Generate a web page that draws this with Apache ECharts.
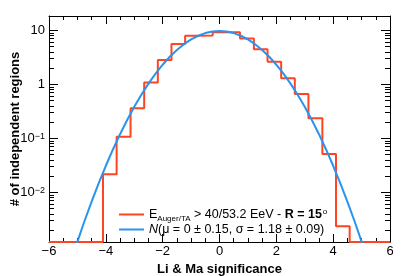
<!DOCTYPE html>
<html><head><meta charset="utf-8">
<script src="https://cdn.jsdelivr.net/npm/echarts@6/dist/echarts.min.js"></script>
<style>html,body{margin:0;padding:0;background:#fff}#c{width:407px;height:276px}</style>
</head><body><div id="c"></div>
<script>
// ---- data ----
const xMin = -6, xMax = 6;
const yMin = 0.00119, yMax = 18.2;
const xTickValues = [-6, -4, -2, 0, 2, 4, 6];
const xTickLabels = ['\u22126', '\u22124', '\u22122', '0', '2', '4', '6'];
const yTickValues = [0.01, 0.1, 1, 10];
const yTickBase = ['10', '10', '1', '10'];
const yTickSup = ['\u22122', '\u22121', '', ''];
const yMinorMantissas = [2, 3, 4, 5, 6, 7, 8, 9];
const yMinorDecades = [0.001, 0.01, 0.1, 1, 10];
const binEdges = [-4.10, -3.62, -3.13, -2.65, -2.17, -1.69, -1.21, -0.72, -0.24, 0.24, 0.72, 1.21, 1.69, 2.17, 2.65, 3.13, 3.62, 4.10, 4.58];
const binCounts = [0.0213, 0.106, 0.355, 1.07, 2.78, 5.5, 7.85, 7.95, 9.06, 9.06, 7.01, 4.4, 2.59, 1.28, 0.653, 0.232, 0.0506, 0.00234];
const fitX = [-5.25, -5, -4.75, -4.5, -4.25, -4, -3.75, -3.5, -3.25, -3, -2.75, -2.5, -2.25, -2, -1.75, -1.5, -1.25, -1, -0.75, -0.5, -0.25, 0,
              0.25, 0.5, 0.75, 1, 1.25, 1.5, 1.75, 2, 2.25, 2.5, 2.75, 3, 3.25, 3.5, 3.75, 4, 4.25, 4.5, 4.75, 5, 5.25];
const fitY = [0.00048, 0.00121, 0.00291, 0.00666, 0.0146, 0.0307, 0.0615, 0.118, 0.216, 0.379, 0.635, 1.02, 1.56, 2.28, 3.20, 4.28, 5.48, 6.70, 7.84, 8.78, 9.39, 9.6,
              9.39, 8.78, 7.84, 6.70, 5.48, 4.28, 3.20, 2.28, 1.56, 1.02, 0.635, 0.379, 0.216, 0.118, 0.0615, 0.0307, 0.0146, 0.00666, 0.00291, 0.00121, 0.00048];
const histName = 'hist';
const fitName = 'fit';
const xTitle = 'Li & Ma significance';
const yTitle = '# of independent regions';

// ---- build ----
const FONT = '"Liberation Sans", Arial, Helvetica, sans-serif';
const RED = '#ff4422';
const BLUE = '#2a93ee';

const histPts = [[xMin, yMin], [binEdges[0], yMin]];
for (let i = 0; i < binCounts.length; i++) {
  histPts.push([binEdges[i], binCounts[i]]);
  histPts.push([binEdges[i + 1], binCounts[i]]);
}
histPts.push([binEdges[binEdges.length - 1], yMin]);
histPts.push([xMax, yMin]);
const fitPts = fitX.map((x, i) => [x, fitY[i]]);

const yMinorPts = [];
yMinorDecades.forEach(d => yMinorMantissas.forEach(m => {
  const v = m * d;
  if (v > yMin && v < yMax) yMinorPts.push([xMin, v]);
}));

function xFmt(v) {
  const i = xTickValues.findIndex(t => Math.abs(t - v) < 1e-9);
  return i < 0 ? '' : xTickLabels[i];
}
function yFmt(v) {
  const i = yTickValues.findIndex(t => Math.abs(Math.log10(t) - Math.log10(v)) < 1e-6);
  if (i < 0) return '';
  return yTickSup[i] ? '{n|' + yTickBase[i] + '}{s|' + yTickSup[i] + '}' : '{n|' + yTickBase[i] + '}';
}

const axisLineStyle = { show: true, onZero: false, lineStyle: { color: '#000', width: 1 } };
const xAxisCommon = {
  type: 'value', min: xMin, max: xMax, interval: 2,
  axisLine: axisLineStyle,
  axisTick: { show: true, inside: true, length: 8, lineStyle: { color: '#000' } },
  minorTick: { show: true, splitNumber: 4, length: 4, lineStyle: { color: '#000' } },
  splitLine: { show: false }, minorSplitLine: { show: false }
};
const yAxisCommon = {
  type: 'log', logBase: 10, min: yMin, max: yMax,
  axisLine: axisLineStyle,
  axisTick: { show: true, inside: true, length: 9, lineStyle: { color: '#000' } },
  minorTick: { show: false },
  splitLine: { show: false }, minorSplitLine: { show: false }
};

const chart = echarts.init(document.getElementById('c'), null, { renderer: 'canvas' });
chart.setOption({
  animation: false,
  backgroundColor: '#fff',
  textStyle: { fontFamily: FONT },
  grid: { left: 49, right: 17, top: 16, bottom: 34, containLabel: false, outerBoundsMode: 'none' },
  xAxis: [
    Object.assign({}, xAxisCommon, {
      position: 'bottom',
      name: xTitle, nameLocation: 'middle', nameGap: 18,
      nameTextStyle: { fontFamily: FONT, fontSize: 13, fontWeight: 'bold', color: '#000' },
      axisLabel: { show: true, margin: 3, fontFamily: FONT, fontSize: 13, color: '#000', formatter: xFmt,
                   showMinLabel: true, showMaxLabel: true }
    }),
    Object.assign({}, xAxisCommon, { position: 'top', axisLabel: { show: false } })
  ],
  yAxis: [
    Object.assign({}, yAxisCommon, {
      position: 'left',
      name: yTitle, nameLocation: 'middle', nameGap: 27, nameRotate: 90, nameMoveOverlap: false,
      nameTextStyle: { fontFamily: FONT, fontSize: 13, fontWeight: 'bold', color: '#000' },
      axisLabel: { show: true, margin: 4, formatter: yFmt, showMinLabel: false, showMaxLabel: false,
        rich: {
          n: { fontFamily: FONT, fontSize: 13, color: '#000', lineHeight: 13 },
          s: { fontFamily: FONT, fontSize: 9, color: '#000', lineHeight: 13, verticalAlign: 'top', padding: [0, 0, 0, 0] }
        } }
    }),
    Object.assign({}, yAxisCommon, { position: 'right', axisLabel: { show: false } })
  ],
  legend: {
    show: true, orient: 'vertical', left: 114, top: 203,
    itemWidth: 25, itemHeight: 2, itemGap: 0,
    data: [{ name: histName, icon: 'rect' }, { name: fitName, icon: 'rect' }],
    formatter: function (name) {
      if (name === histName) return '{n|E}{sub|Auger/TA}{n| > 40/53.2 EeV - }{b|R = 15}{sup|o}';
      return '{i|N}{n|(\u03bc = 0 \u00b1 0.15, \u03c3 = 1.18 \u00b1 0.09)}';
    },
    textStyle: {
      fontFamily: FONT, fontSize: 12.5, color: '#000',
      rich: {
        n: { fontFamily: FONT, fontSize: 12.5, color: '#000', lineHeight: 13 },
        i: { fontFamily: FONT, fontSize: 12.5, color: '#000', lineHeight: 13, fontStyle: 'italic' },
        b: { fontFamily: FONT, fontSize: 12.5, color: '#000', lineHeight: 13, fontWeight: 'bold' },
        sub: { fontFamily: FONT, fontSize: 8, color: '#000', lineHeight: 13, verticalAlign: 'top', padding: [7, 0, 0, 0] },
        sup: { fontFamily: FONT, fontSize: 8, color: '#000', lineHeight: 13, verticalAlign: 'top', padding: [0, 0, 0, 1] }
      }
    }
  },
  series: [
    {
      name: histName, type: 'line', xAxisIndex: 0, yAxisIndex: 0,
      data: histPts, symbol: 'none', showSymbol: false, clip: true,
      color: RED, lineStyle: { color: RED, width: 2 }, z: 3
    },
    {
      name: fitName, type: 'line', xAxisIndex: 0, yAxisIndex: 0,
      data: fitPts, symbol: 'none', showSymbol: false, clip: true, smooth: false,
      color: BLUE, lineStyle: { color: BLUE, width: 2 }, z: 4
    },
    {
      name: 'yminor', type: 'custom', xAxisIndex: 0, yAxisIndex: 0,
      data: yMinorPts, encode: { x: 0, y: 1 }, silent: true, clip: false, z: 5,
      renderItem: function (params, api) {
        const v = api.value(1);
        const pl = api.coord([xMin, v]);
        const pr = api.coord([xMax, v]);
        const y = Math.round(pl[1]) + 0.5;
        const xl = Math.round(pl[0]);
        const xr = Math.round(pr[0]);
        return { type: 'group', children: [
          { type: 'rect', shape: { x: xl, y: y - 0.5, width: 5, height: 1 }, style: { fill: '#000' } },
          { type: 'rect', shape: { x: xr - 5, y: y - 0.5, width: 5, height: 1 }, style: { fill: '#000' } }
        ] };
      }
    }
  ]
});
</script>
</body></html>
